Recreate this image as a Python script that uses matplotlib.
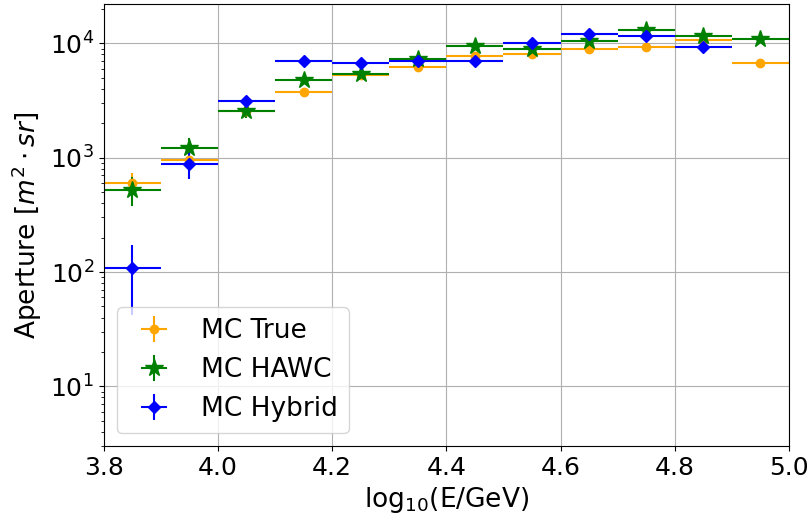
import numpy as np
import matplotlib
matplotlib.use("Agg")
import matplotlib.pyplot as plt

# bin centres in log10(E/GeV), bin half width 0.05
energy = [3.85, 3.95, 4.05, 4.15, 4.25, 4.35, 4.45, 4.55, 4.65, 4.75, 4.85, 4.95]
half_width = 0.05

ap_true = [600, 950, 2550, 3780, 5300, 6210, 7740, 8060, 8920, 9290, 10620, 6780]
err_true = [140, 60, 150, 200, 250, 300, 350, 350, 400, 400, 450, 500]

ap_hawc = [525, 1220, 2560, 4810, 5380, 7350, 9540, 8920, 10480, 13180, 11670, 10840]
err_hawc = [150, 260, 340, 400, 400, 450, 500, 500, 550, 600, 600, 600]

energy_hyb = energy[:11]
ap_hybrid = [108, 880, 3150, 7000, 6780, 7060, 7060, 10000, 12060, 11580, 9230]
err_hybrid = [66, 233, 250, 350, 350, 400, 400, 450, 500, 500, 450]

fig, ax = plt.subplots(figsize=(8.1, 5.2), dpi=100)
fig.subplots_adjust(left=0.128, right=0.974, top=0.992, bottom=0.142)

ax.errorbar(energy, ap_true, xerr=half_width, yerr=err_true, fmt='o',
            color='orange', ms=6, lw=1.5, label='MC True')
ax.errorbar(energy, ap_hawc, xerr=half_width, yerr=err_hawc, fmt='*',
            color='green', ms=13, lw=1.5, label='MC HAWC')
ax.errorbar(energy_hyb, ap_hybrid, xerr=half_width, yerr=err_hybrid, fmt='D',
            color='blue', ms=6, lw=1.5, label='MC Hybrid')

ax.set_yscale('log')
ax.set_xlim(3.8, 5.0)
ax.set_ylim(3.0, 2.2e4)
ax.grid(True, color='#b0b0b0', lw=0.8)
ax.set_xlabel(r'log$_{10}$(E/GeV)', fontsize=19)
ax.set_ylabel(r'Aperture [$m^2 \cdot sr$]', fontsize=19)
ax.tick_params(axis='both', which='major', labelsize=18)
ax.legend(loc='lower left', fontsize=19)

plt.savefig('out.png', dpi=100)
